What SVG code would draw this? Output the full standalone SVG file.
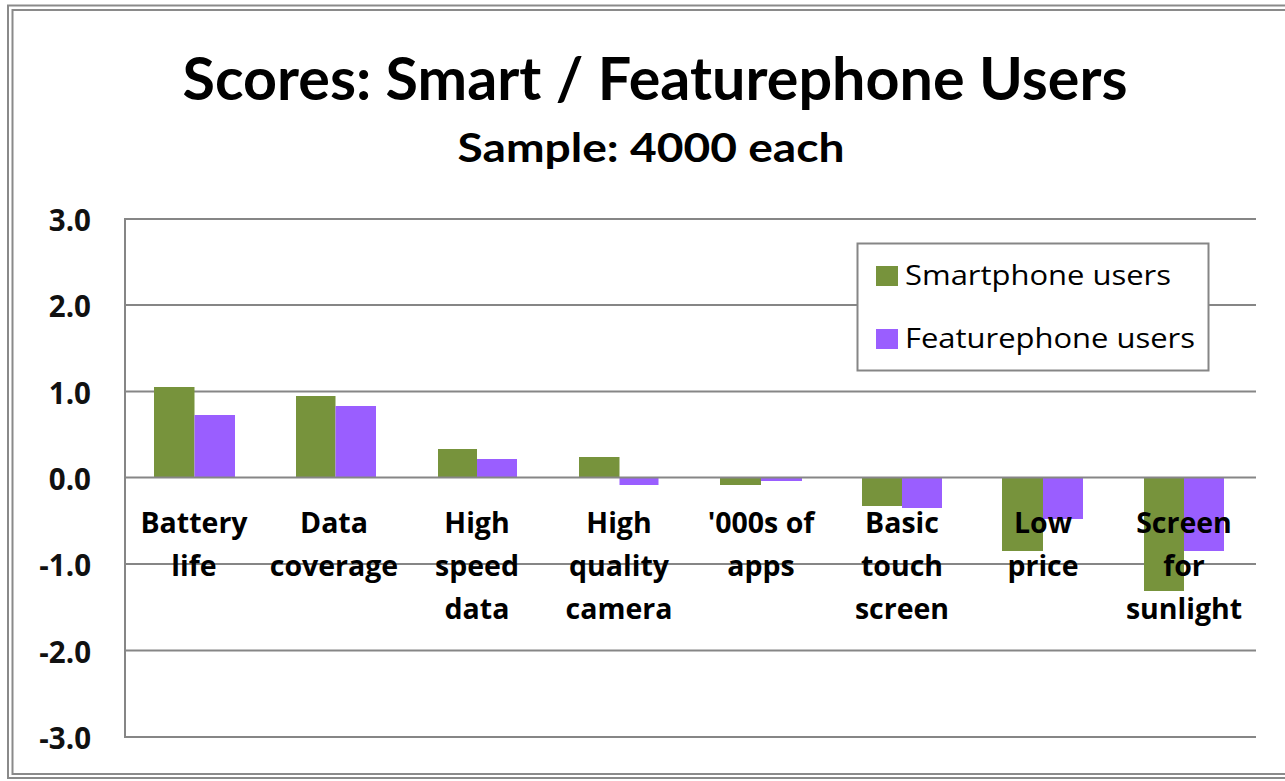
<svg xmlns="http://www.w3.org/2000/svg" width="1285" height="781" viewBox="0 0 1285 781">
  <style>
    .frame { fill: none; stroke: #8a8a8a; stroke-width: 2; }
    .grid { stroke: #868686; stroke-width: 2; fill: none; }
    .smart { fill: #77933c; }
    .feat { fill: #9a5eff; }
    .title { font-family: Lato, "Open Sans", sans-serif; font-weight: bold; fill: #000; text-anchor: middle; }
    .ylab { font-family: "Open Sans", Lato, sans-serif; font-weight: bold; font-size: 29.5px; fill: #111; text-anchor: end; dominant-baseline: central; }
    .cat { font-family: "Open Sans", Lato, sans-serif; font-weight: bold; font-size: 28.5px; fill: #000; text-anchor: middle; }
    .leg { font-family: "Open Sans", Lato, sans-serif; font-size: 28px; fill: #000; }
  </style>

  <rect width="1285" height="781" fill="#ffffff"/>

  <!-- double chart border, right edge runs off the canvas -->
  <rect class="frame" x="8" y="5.5" width="1290" height="772.5"/>
  <rect class="frame" x="12.5" y="10" width="1290" height="764" stroke="#a8a8a8"/>

  <!-- titles -->
  <g id="title">
    <text class="title" x="655" y="100" font-size="60" textLength="945" lengthAdjust="spacingAndGlyphs">Scores: Smart / Featurephone Users</text>
    <text class="title" x="651" y="162" font-size="41" textLength="387" lengthAdjust="spacingAndGlyphs">Sample: 4000 each</text>
  </g>

  <!-- value axis labels -->
  <g id="y-axis">
    <text class="ylab" x="91" y="219">3.0</text>
    <text class="ylab" x="91" y="305">2.0</text>
    <text class="ylab" x="91" y="392">1.0</text>
    <text class="ylab" x="91" y="478">0.0</text>
    <text class="ylab" x="91" y="564">-1.0</text>
    <text class="ylab" x="91" y="651">-2.0</text>
    <text class="ylab" x="91" y="737">-3.0</text>
  </g>

  <!-- gridlines and axes -->
  <g id="grid">
    <line class="grid" x1="125" y1="219" x2="1256" y2="219"/>
    <line class="grid" x1="125" y1="305" x2="1256" y2="305"/>
    <line class="grid" x1="125" y1="391.5" x2="1256" y2="391.5"/>
    <line class="grid" x1="125" y1="564" x2="1256" y2="564"/>
    <line class="grid" x1="125" y1="650.5" x2="1256" y2="650.5"/>
    <line class="grid" x1="125" y1="737" x2="1256" y2="737"/>
    <line class="grid" x1="125" y1="218" x2="125" y2="738"/>
  </g>

  <!-- bars: zero at y=477.5, 86.33 px per unit -->
  <g id="bars">
    <g id="battery-life">
      <rect class="smart" x="154" y="387" width="40.5" height="90.5"/>
      <rect class="feat" x="194.5" y="415" width="40.5" height="62.5"/>
    </g>
    <g id="data-coverage">
      <rect class="smart" x="296" y="396" width="39.5" height="81.5"/>
      <rect class="feat" x="335.5" y="406" width="40.5" height="71.5"/>
    </g>
    <g id="high-speed-data">
      <rect class="smart" x="438" y="449" width="39" height="28.5"/>
      <rect class="feat" x="477" y="459" width="40" height="18.5"/>
    </g>
    <g id="high-quality-camera">
      <rect class="smart" x="579" y="457" width="40.5" height="20.5"/>
      <rect class="feat" x="619.5" y="477.5" width="39" height="7.5"/>
    </g>
    <g id="apps">
      <rect class="smart" x="720" y="477.5" width="41" height="7.5"/>
      <rect class="feat" x="761" y="477.5" width="41" height="3.5"/>
    </g>
    <g id="basic-touch-screen">
      <rect class="smart" x="862" y="477.5" width="40" height="28.5"/>
      <rect class="feat" x="902" y="477.5" width="40" height="30.5"/>
    </g>
    <g id="low-price">
      <rect class="smart" x="1002" y="477.5" width="41" height="73.5"/>
      <rect class="feat" x="1043" y="477.5" width="40" height="41.5"/>
    </g>
    <g id="screen-for-sunlight">
      <rect class="smart" x="1144" y="477.5" width="40" height="113.5"/>
      <rect class="feat" x="1184" y="477.5" width="40" height="73.5"/>
    </g>
  </g>

  <line class="grid" x1="125" y1="477.5" x2="1256" y2="477.5"/>

  <!-- category labels -->
  <g id="categories">
    <text class="cat" x="194" y="533">Battery<tspan x="194" dy="43">life</tspan></text>
    <text class="cat" x="334" y="533">Data<tspan x="334" dy="43">coverage</tspan></text>
    <text class="cat" x="477" y="533">High<tspan x="477" dy="43">speed</tspan><tspan x="477" dy="43">data</tspan></text>
    <text class="cat" x="619" y="533">High<tspan x="619" dy="43">quality</tspan><tspan x="619" dy="43">camera</tspan></text>
    <text class="cat" x="761" y="533">'000s of<tspan x="761" dy="43">apps</tspan></text>
    <text class="cat" x="902" y="533">Basic<tspan x="902" dy="43">touch</tspan><tspan x="902" dy="43">screen</tspan></text>
    <text class="cat" x="1043" y="533">Low<tspan x="1043" dy="43">price</tspan></text>
    <text class="cat" x="1184" y="533">Screen<tspan x="1184" dy="43">for</tspan><tspan x="1184" dy="43">sunlight</tspan></text>
  </g>

  <!-- legend -->
  <g id="legend">
    <rect x="857.5" y="243.5" width="351" height="127" fill="#ffffff" stroke="#868686" stroke-width="2"/>
    <rect class="smart" x="876" y="266" width="22" height="20"/>
    <text class="leg" x="905" y="285" textLength="266" lengthAdjust="spacingAndGlyphs">Smartphone users</text>
    <rect class="feat" x="876" y="329" width="22" height="20"/>
    <text class="leg" x="905" y="348" textLength="290" lengthAdjust="spacingAndGlyphs">Featurephone users</text>
  </g>
</svg>
